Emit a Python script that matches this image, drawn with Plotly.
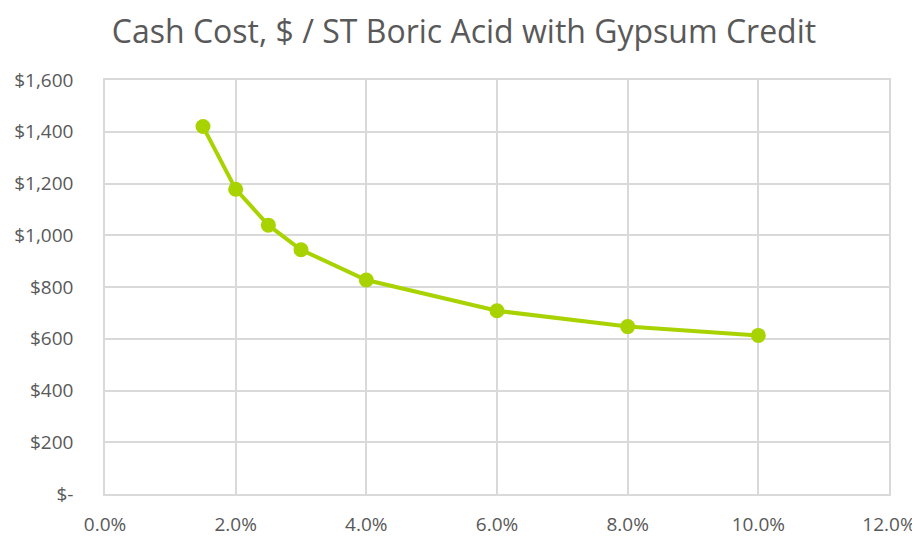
import plotly.graph_objects as go

# Gypsum content (%) vs cash cost ($ / short ton boric acid)
gypsum_pct = [1.5, 2.0, 2.5, 3.0, 4.0, 6.0, 8.0, 10.0]
cash_cost = [1420, 1178, 1039, 944, 827, 708, 647, 613]

x_ticks = [0, 2, 4, 6, 8, 10, 12]
x_labels = ["0.0%", "2.0%", "4.0%", "6.0%", "8.0%", "10.0%", "12.0%"]
y_ticks = [0, 200, 400, 600, 800, 1000, 1200, 1400, 1600]
y_labels = ["$-", "$200", "$400", "$600", "$800", "$1,000", "$1,200", "$1,400", "$1,600"]

LINE_GREEN = "#A9D300"
TEXT_GREY = "#595959"
GRID_GREY = "#D9D9D9"

fig = go.Figure()
fig.add_trace(
    go.Scatter(
        x=gypsum_pct,
        y=cash_cost,
        mode="lines+markers",
        line=dict(color=LINE_GREEN, width=4),
        marker=dict(color=LINE_GREEN, size=15),
        showlegend=False
    )
)

# page body has an 8px margin, so the figure is sized to fit inside it
fig.update_layout(
    title=dict(
        text="Cash Cost, $ / ST Boric Acid with Gypsum Credit",
        x=0.5, xanchor="center", y=0.955, yanchor="middle",
        font=dict(size=32, color=TEXT_GREY)
    ),
    width=912, height=528,
    plot_bgcolor="white",
    paper_bgcolor="white",
    font=dict(family="Open Sans", color=TEXT_GREY, size=19),
    margin=dict(l=97, r=31, t=72, b=42)
)

fig.update_xaxes(
    range=[0, 12], tickvals=x_ticks, ticktext=x_labels,
    showgrid=True, gridcolor=GRID_GREY, gridwidth=1.5,
    showline=True, linecolor=GRID_GREY, linewidth=1.5, mirror=True,
    zeroline=False, ticks="outside", ticklen=12, tickcolor="rgba(0,0,0,0)",
    automargin=False
)
fig.update_yaxes(
    range=[0, 1600], tickvals=y_ticks, ticktext=y_labels,
    showgrid=True, gridcolor=GRID_GREY, gridwidth=1.5,
    showline=True, linecolor=GRID_GREY, linewidth=1.5, mirror=True,
    zeroline=False, ticks="outside", ticklen=26, tickcolor="rgba(0,0,0,0)",
    automargin=False
)

fig.write_html("out.html")
